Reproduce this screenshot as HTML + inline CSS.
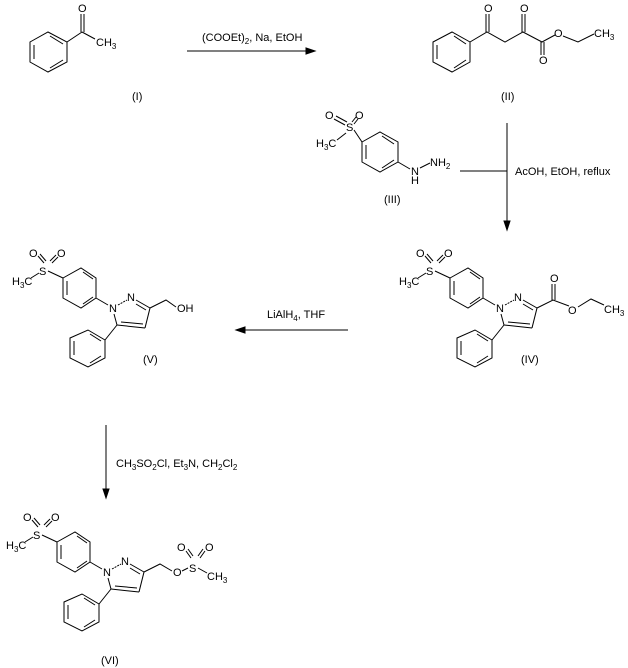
<!DOCTYPE html>
<html><head><meta charset="utf-8"><style>
html,body{margin:0;padding:0;background:#fff;}
svg{display:block;}
text{font-family:"Liberation Sans",sans-serif;font-size:11px;fill:#000;}
.s{font-size:8px;}
line,polyline,polygon{stroke:#000;stroke-width:1;fill:none;}
</style></head><body>
<svg width="628" height="668" viewBox="0 0 628 668" xmlns="http://www.w3.org/2000/svg">

<!-- Compound I -->
<polygon points="30,42 48,32 67,42 67,62 48,72 30,62"/>
<line x1="34" y1="45" x2="34" y2="59"/><line x1="50" y1="36" x2="63" y2="44"/><line x1="50" y1="68" x2="63" y2="60"/>
<line x1="67" y1="42" x2="82" y2="32"/>
<line x1="81" y1="32" x2="81" y2="14"/><line x1="84" y1="32" x2="84" y2="14"/>
<line x1="82" y1="32" x2="95" y2="39"/>
<text x="78" y="12">O</text>
<text x="96" y="46">CH<tspan class="s" dy="3">3</tspan></text>
<text x="132" y="100">(I)</text>

<!-- Arrow 1 -->
<line x1="187" y1="51" x2="312" y2="51"/>
<polygon points="315,51 306,48 306,54" style="fill:#000"/>
<text x="202" y="41">(COOEt)<tspan class="s" dy="3">2</tspan><tspan dy="-3">, Na, EtOH</tspan></text>

<!-- Compound II -->
<polygon points="433,42 452,32 470,42 470,62 452,72 433,62"/>
<line x1="437" y1="45" x2="437" y2="59"/><line x1="454" y1="36" x2="466" y2="44"/><line x1="454" y1="68" x2="466" y2="60"/>
<polyline points="470,42 487,32 505,42 523,32 542,42 555,35"/>
<line x1="486" y1="32" x2="486" y2="14"/><line x1="489" y1="32" x2="489" y2="14"/>
<line x1="522" y1="32" x2="522" y2="14"/><line x1="525" y1="32" x2="525" y2="14"/>
<line x1="541" y1="42" x2="541" y2="55"/><line x1="544" y1="42" x2="544" y2="55"/>
<text x="484" y="12">O</text><text x="520" y="12">O</text><text x="539" y="64">O</text>
<text x="554" y="37">O</text>
<polyline points="563,36 578,42 594,34"/>
<text x="594" y="37">CH<tspan class="s" dy="3">3</tspan></text>
<text x="501" y="100">(II)</text>

<!-- Compound III -->
<text x="325" y="119">O</text><text x="355" y="119">O</text>
<line x1="334" y1="119" x2="345" y2="125"/><line x1="336" y1="116" x2="347" y2="122"/>
<line x1="358" y1="119" x2="354" y2="124"/><line x1="356" y1="117" x2="352" y2="122"/>
<text x="346" y="131">S</text>
<text x="316" y="147">H<tspan class="s" dy="3">3</tspan><tspan dy="-3">C</tspan></text>
<line x1="337" y1="140" x2="346" y2="133"/>
<line x1="354" y1="130" x2="362" y2="142"/>
<polygon points="362,142 380,132 398,142 398,162 380,172 362,162"/>
<line x1="366" y1="145" x2="366" y2="159"/><line x1="382" y1="136" x2="394" y2="144"/><line x1="382" y1="168" x2="394" y2="160"/>
<line x1="398" y1="162" x2="410" y2="169"/>
<text x="411" y="175">N</text><text x="411" y="184">H</text>
<line x1="420" y1="168" x2="430" y2="163"/>
<text x="430" y="166">NH<tspan class="s" dy="3">2</tspan></text>
<text x="384" y="203">(III)</text>

<!-- Arrow 2 -->
<line x1="460" y1="171" x2="507" y2="171"/>
<line x1="507" y1="123" x2="507" y2="226"/>
<polygon points="507,230 504,221 510,221" style="fill:#000"/>
<text x="515" y="175">AcOH, EtOH, reflux</text>

<!-- Core IV -->
<g transform="translate(500,308)" id="core4">
<text x="-84" y="-51">O</text><text x="-56" y="-51">O</text>
<line x1="-75" y1="-52" x2="-69" y2="-45"/><line x1="-73" y1="-54" x2="-67" y2="-47"/>
<line x1="-55" y1="-51" x2="-61" y2="-45"/><line x1="-57" y1="-53" x2="-63" y2="-47"/>
<text x="-74" y="-33">S</text>
<text x="-101" y="-23">H<tspan class="s" dy="3">3</tspan><tspan dy="-3">C</tspan></text>
<line x1="-82" y1="-30" x2="-74" y2="-35"/>
<line x1="-65" y1="-37" x2="-50" y2="-30"/>
<polygon points="-50,-30 -32,-40 -17,-30 -17,-10 -32,0 -50,-10"/>
<line x1="-46" y1="-27" x2="-46" y2="-13"/><line x1="-30" y1="-36" x2="-20" y2="-29"/><line x1="-30" y1="-4" x2="-20" y2="-11"/>
<line x1="-17" y1="-10" x2="-5" y2="-3"/>
<text x="-4" y="4">N</text>
<line x1="5" y1="-3" x2="14" y2="-8" stroke-dasharray="2,1"/>
<text x="14" y="-7">N</text>
<line x1="23" y1="-8" x2="37" y2="0"/><line x1="23" y1="-4" x2="33" y2="2"/>
<line x1="37" y1="0" x2="32" y2="20"/>
<line x1="32" y1="20" x2="4" y2="17"/><line x1="30" y1="16" x2="8" y2="14"/>
<line x1="4" y1="17" x2="1" y2="6"/>
<line x1="4" y1="17" x2="-8" y2="32"/>
<polygon points="-25,22 -8,32 -8,50 -25,59 -43,50 -43,30"/>
<line x1="-39" y1="33" x2="-39" y2="47"/><line x1="-23" y1="26" x2="-12" y2="33"/><line x1="-23" y1="55" x2="-12" y2="48"/>
</g>
<!-- IV ester -->
<polyline points="537,308 553,300 569,306"/>
<line x1="552" y1="300" x2="552" y2="284"/><line x1="555" y1="300" x2="555" y2="284"/>
<text x="550" y="282">O</text><text x="568" y="314">O</text>
<polyline points="578,307 591,299 604,305"/>
<text x="604" y="313">CH<tspan class="s" dy="3">3</tspan></text>
<text x="521" y="363">(IV)</text>

<!-- Arrow 3 -->
<line x1="240" y1="330" x2="348" y2="330"/>
<polygon points="236,330 245,327 245,333" style="fill:#000"/>
<text x="267" y="318">LiAlH<tspan class="s" dy="3">4</tspan><tspan dy="-3">, THF</tspan></text>

<!-- Core V -->
<g transform="translate(113,308)">
<text x="-84" y="-51">O</text><text x="-56" y="-51">O</text>
<line x1="-75" y1="-52" x2="-69" y2="-45"/><line x1="-73" y1="-54" x2="-67" y2="-47"/>
<line x1="-55" y1="-51" x2="-61" y2="-45"/><line x1="-57" y1="-53" x2="-63" y2="-47"/>
<text x="-74" y="-33">S</text>
<text x="-101" y="-23">H<tspan class="s" dy="3">3</tspan><tspan dy="-3">C</tspan></text>
<line x1="-82" y1="-30" x2="-74" y2="-35"/>
<line x1="-65" y1="-37" x2="-50" y2="-30"/>
<polygon points="-50,-30 -32,-40 -17,-30 -17,-10 -32,0 -50,-10"/>
<line x1="-46" y1="-27" x2="-46" y2="-13"/><line x1="-30" y1="-36" x2="-20" y2="-29"/><line x1="-30" y1="-4" x2="-20" y2="-11"/>
<line x1="-17" y1="-10" x2="-5" y2="-3"/>
<text x="-4" y="4">N</text>
<line x1="5" y1="-3" x2="14" y2="-8" stroke-dasharray="2,1"/>
<text x="14" y="-7">N</text>
<line x1="23" y1="-8" x2="37" y2="0"/><line x1="23" y1="-4" x2="33" y2="2"/>
<line x1="37" y1="0" x2="32" y2="20"/>
<line x1="32" y1="20" x2="4" y2="17"/><line x1="30" y1="16" x2="8" y2="14"/>
<line x1="4" y1="17" x2="1" y2="6"/>
<line x1="4" y1="17" x2="-8" y2="32"/>
<polygon points="-25,22 -8,32 -8,50 -25,59 -43,50 -43,30"/>
<line x1="-39" y1="33" x2="-39" y2="47"/><line x1="-23" y1="26" x2="-12" y2="33"/><line x1="-23" y1="55" x2="-12" y2="48"/>
<polyline points="37,0 53,-8 63,-1"/>
<text x="64" y="4">OH</text>
</g>
<text x="143" y="363">(V)</text>

<!-- Arrow 4 -->
<line x1="106" y1="425" x2="106" y2="494"/>
<polygon points="106,498 103,489 109,489" style="fill:#000"/>
<text x="116" y="467">CH<tspan class="s" dy="3">3</tspan><tspan dy="-3">SO</tspan><tspan class="s" dy="3">2</tspan><tspan dy="-3">Cl, Et</tspan><tspan class="s" dy="3">3</tspan><tspan dy="-3">N, CH</tspan><tspan class="s" dy="3">2</tspan><tspan dy="-3">Cl</tspan><tspan class="s" dy="3">2</tspan></text>

<!-- Core VI -->
<g transform="translate(107,572)">
<text x="-84" y="-51">O</text><text x="-56" y="-51">O</text>
<line x1="-75" y1="-52" x2="-69" y2="-45"/><line x1="-73" y1="-54" x2="-67" y2="-47"/>
<line x1="-55" y1="-51" x2="-61" y2="-45"/><line x1="-57" y1="-53" x2="-63" y2="-47"/>
<text x="-74" y="-33">S</text>
<text x="-101" y="-23">H<tspan class="s" dy="3">3</tspan><tspan dy="-3">C</tspan></text>
<line x1="-82" y1="-30" x2="-74" y2="-35"/>
<line x1="-65" y1="-37" x2="-50" y2="-30"/>
<polygon points="-50,-30 -32,-40 -17,-30 -17,-10 -32,0 -50,-10"/>
<line x1="-46" y1="-27" x2="-46" y2="-13"/><line x1="-30" y1="-36" x2="-20" y2="-29"/><line x1="-30" y1="-4" x2="-20" y2="-11"/>
<line x1="-17" y1="-10" x2="-5" y2="-3"/>
<text x="-4" y="4">N</text>
<line x1="5" y1="-3" x2="14" y2="-8" stroke-dasharray="2,1"/>
<text x="14" y="-7">N</text>
<line x1="23" y1="-8" x2="37" y2="0"/><line x1="23" y1="-4" x2="33" y2="2"/>
<line x1="37" y1="0" x2="32" y2="20"/>
<line x1="32" y1="20" x2="4" y2="17"/><line x1="30" y1="16" x2="8" y2="14"/>
<line x1="4" y1="17" x2="1" y2="6"/>
<line x1="4" y1="17" x2="-8" y2="32"/>
<polygon points="-25,22 -8,32 -8,50 -25,59 -43,50 -43,30"/>
<line x1="-39" y1="33" x2="-39" y2="47"/><line x1="-23" y1="26" x2="-12" y2="33"/><line x1="-23" y1="55" x2="-12" y2="48"/>
<polyline points="37,0 53,-8 65,-1"/>
<text x="66" y="4">O</text>
<line x1="75" y1="-1" x2="81" y2="-4"/>
<text x="82" y="0">S</text>
<text x="70" y="-21">O</text><text x="98" y="-21">O</text>
<line x1="79" y1="-21" x2="84" y2="-14"/><line x1="81" y1="-23" x2="86" y2="-16"/>
<line x1="98" y1="-21" x2="93" y2="-14"/><line x1="96" y1="-23" x2="91" y2="-16"/>
<line x1="91" y1="-4" x2="100" y2="1"/>
<text x="100" y="8">CH<tspan class="s" dy="3">3</tspan></text>
</g>
<text x="101" y="664">(VI)</text>
</svg>
</body></html>
